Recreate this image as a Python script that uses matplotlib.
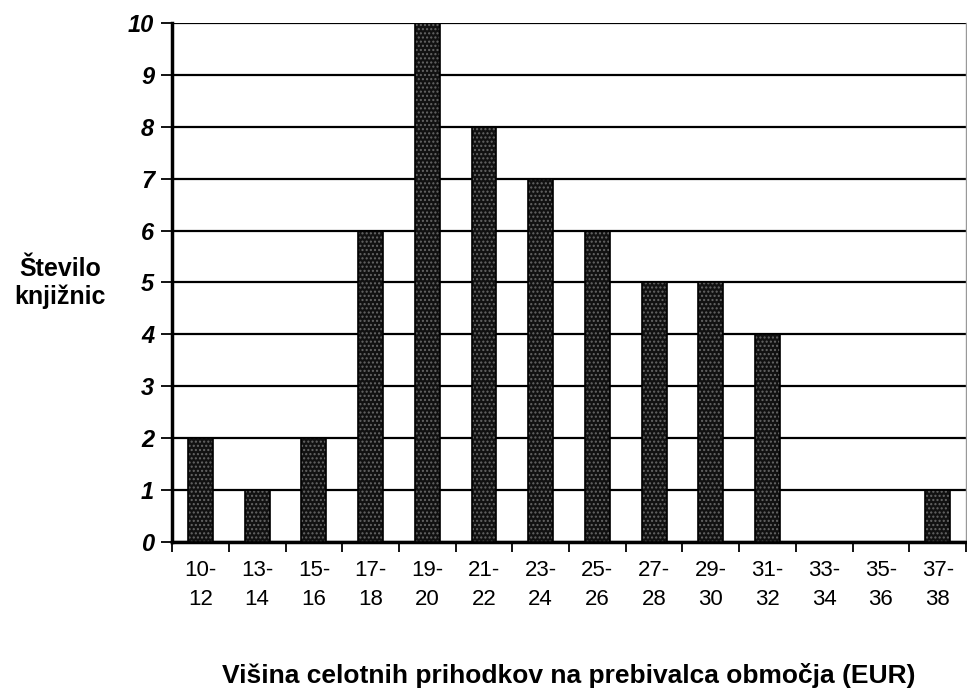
import numpy as np
import matplotlib
matplotlib.use("Agg")
import matplotlib.pyplot as plt

plt.rcParams['font.family'] = ['Liberation Sans', 'DejaVu Sans']

categories = ["10-\n12", "13-\n14", "15-\n16", "17-\n18", "19-\n20", "21-\n22", "23-\n24",
              "25-\n26", "27-\n28", "29-\n30", "31-\n32", "33-\n34", "35-\n36", "37-\n38"]
counts = [2, 1, 2, 6, 10, 8, 7, 6, 5, 5, 4, 0, 0, 1]

fig = plt.figure(figsize=(9.67, 6.89), dpi=100)
ax = fig.add_axes([0.178, 0.2134, 0.821, 0.7532])

x = np.arange(len(categories))
plt.rcParams['hatch.linewidth'] = 1.0
ax.bar(x, counts, width=0.44, color='#111111', edgecolor='#666666', hatch='....', linewidth=0, zorder=3)
ax.bar(x, counts, width=0.44, fill=False, edgecolor='black', linewidth=1.2, zorder=4)

ax.set_xlim(-0.5, len(categories) - 0.5)
ax.set_ylim(0, 10)
ax.set_yticks(range(0, 11))
ax.set_yticklabels([str(v) for v in range(0, 11)], fontsize=17, fontweight='bold', fontstyle='italic')
ax.yaxis.grid(True, color='black', linewidth=1.6, zorder=0)
ax.set_axisbelow(True)

# ticks between the categories, labels centered under bars
ax.set_xticks(np.arange(-0.5, len(categories), 1.0))
ax.set_xticklabels([])
ax.set_xticks(x, minor=True)
ax.set_xticklabels(categories, minor=True, fontsize=16, linespacing=1.5)
ax.tick_params(axis='x', which='major', direction='out', length=7, width=1.3)
ax.tick_params(axis='x', which='minor', length=0, pad=13)
ax.tick_params(axis='y', direction='out', length=8, width=1.3, pad=5)

ax.spines['top'].set_visible(False)
ax.spines['left'].set_linewidth(2.5)
ax.spines['bottom'].set_linewidth(2.5)
ax.spines['right'].set_color('#999999')
ax.spines['right'].set_linewidth(1)

fig.text(0.062, 0.589, "Število\nknjižnic", ha='center', va='center', fontsize=18,
         fontweight='bold', linespacing=1.2)
fig.text(0.588, 0.008, "Višina celotnih prihodkov na prebivalca območja (EUR)", ha='center',
         va='baseline', fontsize=19, fontweight='bold')

fig.savefig('out.png', dpi=100)
